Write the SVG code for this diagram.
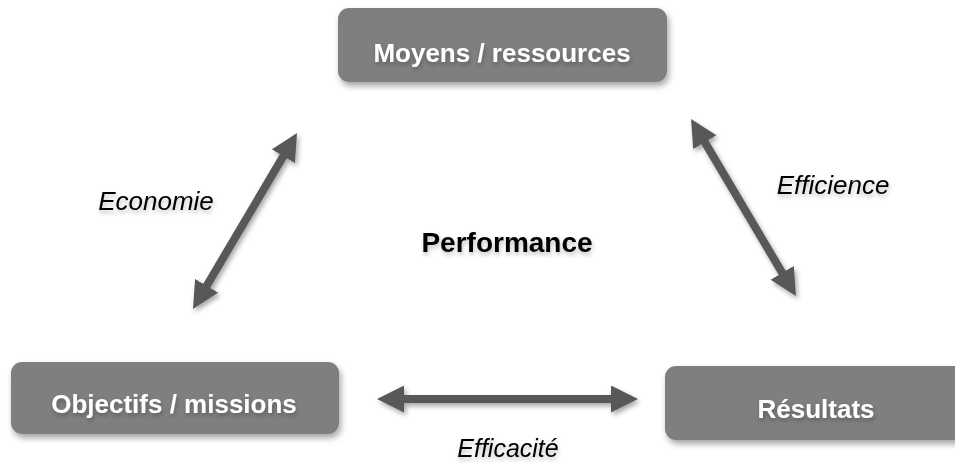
<svg xmlns="http://www.w3.org/2000/svg" width="955" height="463" viewBox="0 0 955 463">
<style>
.box{fill:#7f7f7f;filter:url(#sh)}
.bt{font-family:"Liberation Sans",Arial,sans-serif;font-weight:bold;font-size:26px;fill:#ffffff;text-anchor:middle;filter:url(#tsh)}
.lab{font-family:"Liberation Sans",Arial,sans-serif;font-style:italic;font-size:26px;fill:#000000;text-anchor:middle;filter:url(#tsh)}
.ctr{font-family:"Liberation Sans",Arial,sans-serif;font-weight:bold;font-size:28px;fill:#000000;text-anchor:middle;filter:url(#tsh)}
.arr{stroke:#595959;stroke-width:8;fill:none;marker-start:url(#ah);marker-end:url(#ah)}
</style>
<defs>
<filter id="sh" x="-10%" y="-20%" width="125%" height="150%">
<feDropShadow dx="2" dy="4" stdDeviation="3" flood-color="#000" flood-opacity="0.35"/>
</filter>
<filter id="tsh" x="-10%" y="-30%" width="120%" height="170%">
<feDropShadow dx="1" dy="3" stdDeviation="2" flood-color="#000" flood-opacity="0.25"/>
</filter>
<filter id="ash" x="-20%" y="-20%" width="140%" height="140%">
<feDropShadow dx="2" dy="3" stdDeviation="2.5" flood-color="#000" flood-opacity="0.35"/>
</filter>
<marker id="ah" markerUnits="userSpaceOnUse" markerWidth="27" markerHeight="27" refX="12" refY="13.5" orient="auto-start-reverse" viewBox="0 0 27 27">
<path d="M0,0 L27,13.5 L0,27 z" fill="#595959"/>
</marker>
</defs>
<rect width="955" height="463" fill="#ffffff"/>
<g id="connectors" filter="url(#ash)">
<line class="arr" x1="200.6" y1="296.1" x2="289.4" y2="145.9"/>
<line class="arr" x1="698.7" y1="131.9" x2="788.3" y2="283.1"/>
<line class="arr" x1="392" y1="399" x2="623" y2="399"/>
</g>
<g id="node-moyens">
<rect class="box" x="338" y="8" width="329" height="74" rx="11"/>
<text class="bt" x="502" y="62">Moyens / ressources</text>
</g>
<g id="node-objectifs">
<rect class="box" x="11" y="362" width="328" height="72" rx="11"/>
<text class="bt" x="174" y="413">Objectifs / missions</text>
</g>
<g id="node-resultats">
<rect class="box" x="665" y="366" width="302" height="74" rx="11"/>
<text class="bt" x="816" y="418">Résultats</text>
</g>
<g id="labels">
<text class="lab" x="156" y="210">Economie</text>
<text class="lab" x="833" y="194">Efficience</text>
<text class="lab" x="508" y="457" style="font-size:25px">Efficacité</text>
<text class="ctr" x="507" y="252">Performance</text>
</g>
</svg>
